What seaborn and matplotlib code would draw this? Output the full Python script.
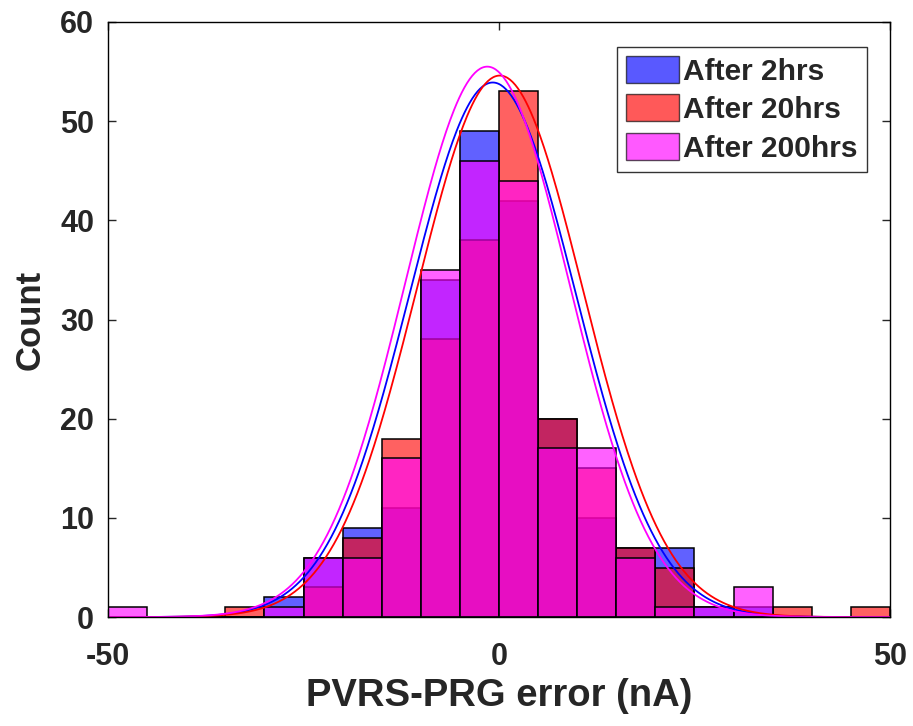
import numpy as np
import matplotlib
matplotlib.use("Agg")
import matplotlib.pyplot as plt
import seaborn as sns
from matplotlib.patches import Patch

# Bin edges (width 5 nA) and bin centers
bin_edges = list(range(-50, 55, 5))
bin_centers = [e + 2.5 for e in bin_edges[:-1]]

# Counts per bin
counts_2h = [0, 0, 0, 0, 2, 6, 9, 11, 34, 49, 42, 20, 10, 7, 7, 1, 1, 0, 0, 0]
counts_20h = [0, 0, 0, 1, 0, 3, 8, 18, 28, 38, 53, 20, 15, 7, 5, 0, 0, 1, 0, 1]
counts_200h = [1, 0, 0, 0, 1, 6, 6, 16, 35, 46, 44, 17, 17, 6, 1, 1, 3, 0, 0, 0]

# Fitted normal curves: peak height, mean, sigma
fit_peak = [53.9, 54.6, 55.5]
fit_mu = [-0.8, 0.1, -1.5]
fit_sigma = [10.6, 10.6, 10.5]

labels = ["After 2hrs", "After 20hrs", "After 200hrs"]
colors = ["#0000ff", "#ff0000", "#ff00ff"]
series = [counts_2h, counts_20h, counts_200h]

sns.set_style("white")
plt.rcParams["font.family"] = ["Liberation Sans", "DejaVu Sans"]
plt.rcParams["font.weight"] = "bold"
plt.rcParams["axes.unicode_minus"] = False

fig = plt.figure(figsize=(9.13, 7.26), dpi=100)
ax = fig.add_axes([0.1183, 0.150, 0.8565, 0.8197])

for cnt, col in zip(series, colors):
    sns.histplot(x=bin_centers, weights=cnt, bins=bin_edges, color=col,
                 alpha=0.62, edgecolor="black", linewidth=1.1, ax=ax)

xs = np.linspace(-50, 50, 600)
for a, mu, sd, col in zip(fit_peak, fit_mu, fit_sigma, colors):
    curve = a * np.exp(-0.5 * ((xs - mu) / sd) ** 2)
    sns.lineplot(x=xs, y=curve, color=col, linewidth=1.3, ax=ax)

ax.set_xlim(-50, 50)
ax.set_ylim(0, 60)
ax.set_xticks([-50, 0, 50])
ax.set_yticks(range(0, 70, 10))
ax.tick_params(direction="in", length=6, width=1, labelsize=22,
               top=True, right=True, bottom=True, left=True)
ax.tick_params(axis="x", pad=18)
ax.tick_params(axis="y", pad=10)
for lab in ax.get_xticklabels() + ax.get_yticklabels():
    lab.set_fontweight("bold")
for s in ax.spines.values():
    s.set_visible(True)
    s.set_color("black")
    s.set_linewidth(1)

ax.set_xlabel("PVRS-PRG error (nA)", fontsize=27.5, fontweight="bold", labelpad=4)
ax.set_ylabel("Count", fontsize=25, fontweight="bold", labelpad=10)

handles = [Patch(facecolor=c, alpha=0.65, edgecolor="black", label=l)
           for c, l in zip(colors, labels)]
leg = ax.legend(handles=handles, loc="upper right", bbox_to_anchor=(0.97, 0.958),
                prop={"size": 21.5, "weight": "bold"}, frameon=True, fancybox=False,
                edgecolor="black", handlelength=1.75, handleheight=1.0,
                handletextpad=0.15, borderpad=0.3, labelspacing=0.3,
                borderaxespad=0)
leg.get_frame().set_linewidth(1)

fig.savefig("out.png", dpi=100)
